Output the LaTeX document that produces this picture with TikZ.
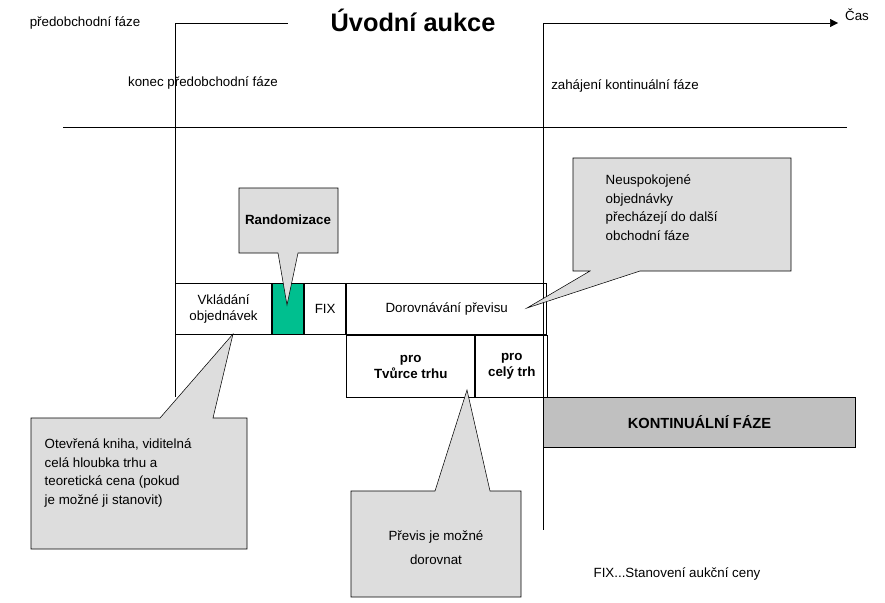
\documentclass[tikz,border=0pt]{standalone}
\usepackage{fontspec}
\setmainfont{Liberation Sans}
\usetikzlibrary{positioning,arrows.meta}
\definecolor{callgray}{HTML}{DDDDDD}
\definecolor{kontgray}{HTML}{C0C0C0}
\definecolor{randgreen}{HTML}{00BF8F}
\tikzset{
  cell/.style = {draw, thick, anchor=north west, inner sep=1pt, align=center, minimum height=38.25pt, font=\fontsize{10}{12}\selectfont},
  lowcell/.style = {cell, minimum height=46.5pt, font=\bfseries\fontsize{10}{12}\selectfont},
  callout/.style = {draw, fill=callgray},
  calltext/.style = {align=left, font=\fontsize{10}{14}\selectfont},
  plain/.style = {font=\fontsize{10}{12}\selectfont},
}
\begin{document}
\begin{tikzpicture}[x=0.75pt, y=-0.75pt]
\useasboundingbox (0,0) rectangle (885,603);

% heading and time axis
\node[plain] (pred) at (85,23) {předobchodní fáze};
\node[font=\bfseries\fontsize{19}{22}\selectfont] (title) at (413,20) {Úvodní aukce};
\node[plain] (cas) at (857,15) {Čas};
\coordinate (t1) at (175,23);
\coordinate (t1e) at (288,23);
\coordinate (t2) at (543,23);
\coordinate (t2e) at (838,23);
\draw (t1) -- (t1e);
\draw[-{Triangle[length=6pt,width=6pt]}] (t2) -- (t2e);
\draw (t1) -- (175,397);
\draw (t2) -- (543,530);
\node[plain] (konec) at (203,83) {konec předobchodní fáze};
\node[plain] (zahaj) at (625,86) {zahájení kontinuální fáze};
\draw (63,127) -- (847,127);

% upper row
\node[cell, minimum width=72pt] (vkl) at (175,283) {Vkládání\\objednávek};
\node[cell, fill=randgreen, minimum width=23.25pt, right=0pt of vkl.north east, anchor=north west] (rnd) {};
\node[cell, minimum width=30.75pt, right=0pt of rnd.north east, anchor=north west] (fix) {FIX};
\node[cell, minimum width=150pt, right=0pt of fix.north east, anchor=north west] (dor) {Dorovnávání převisu};

% lower row
\node[lowcell, minimum width=96pt, below=0pt of dor.south west, anchor=north west] (tvu) {pro\\Tvůrce trhu};
\node[lowcell, minimum width=54pt, right=0pt of tvu.north east, anchor=north west] (cel) {pro\\celý trh};
\node[cell, fill=kontgray, minimum width=234pt, minimum height=37.5pt, font=\bfseries\fontsize{11}{13}\selectfont] (kont) at (543,397) {KONTINUÁLNÍ FÁZE};

% callouts
\draw[callout] (239,188) -- (338,188) -- (338,253) -- (298,253) -- (287,305) -- (278,253) -- (239,253) -- cycle;
\node[font=\bfseries\fontsize{10}{12}\selectfont] (randlab) at (288,220) {Randomizace};

\draw[callout] (573,158) -- (791,158) -- (791,271) -- (640,271) -- (527,308) -- (590,271) -- (573,271) -- cycle;
\node[calltext, anchor=north west] (neus) at (601,170) {Neuspokojené\\objednávky\\přecházejí do další\\obchodní fáze};

\draw[callout] (31,418) -- (160,418) -- (233,334) -- (213,418) -- (247,418) -- (247,549) -- (31,549) -- cycle;
\node[calltext, anchor=north west] (otev) at (40,434) {Otevřená kniha, viditelná\\celá hloubka trhu a\\teoretická cena (pokud\\je možné ji stanovit)};

\draw[callout] (351,491) -- (435,491) -- (467,390) -- (490,491) -- (521,491) -- (521,597) -- (351,597) -- cycle;
\node[calltext, align=center, font=\fontsize{10}{18}\selectfont] (prev) at (436,548) {Převis je možné\\dorovnat};

\node[plain] (fixlab) at (677,574) {FIX...Stanovení aukční ceny};
\end{tikzpicture}
\end{document}
